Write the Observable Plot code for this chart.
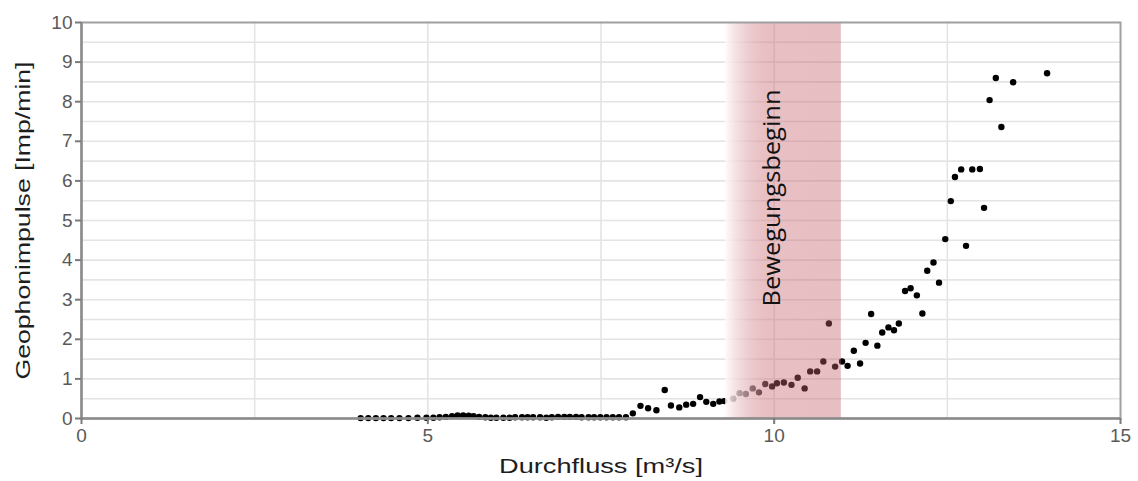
<!DOCTYPE html>
<html><head><meta charset="utf-8">
<script src="https://cdn.jsdelivr.net/npm/d3@7"></script>
<script src="https://cdn.jsdelivr.net/npm/@observablehq/plot@0.6"></script>
<style>body{margin:0;background:#fff}</style>
</head><body><div id="chart"></div>
<script>
// Durchfluss [m³/s]
const discharge = [
  4.03,4.14,4.25,4.36,4.47,4.59,4.72,4.85,4.98,5.08,5.17,5.26,5.35,5.43,5.51,5.59,5.66,5.74,5.83,5.91,
  5.99,6.09,6.18,6.26,6.36,6.44,6.52,6.62,6.71,6.79,6.88,6.97,7.05,7.14,7.22,7.32,7.40,7.49,7.58,7.67,
  7.76,7.86,
  7.96,8.07,8.18,8.30,8.42,8.51,8.63,8.73,8.83,8.93,9.02,9.12,9.21,9.28,9.41,9.50,9.59,9.69,9.78,9.87,
  9.97,10.04,10.14,10.25,10.34,10.44,10.52,10.62,10.71,10.79,10.88,10.98,11.06,11.15,11.24,11.32,11.40,
  11.49,11.56,11.65,11.73,11.80,11.89,11.97,12.06,12.14,12.21,12.30,12.38,12.47,12.55,12.61,12.70,12.77,
  12.86,12.97,13.03,13.11,13.20,13.28,13.45,13.94
];
// Geophonimpulse [Imp/min]
const impulses = [
  0.01,0.01,0.01,0.01,0.01,0.01,0.01,0.02,0.02,0.02,0.03,0.04,0.06,0.08,0.08,0.07,0.06,0.04,0.03,0.02,
  0.02,0.02,0.02,0.03,0.03,0.03,0.03,0.03,0.02,0.03,0.04,0.04,0.04,0.04,0.03,0.03,0.03,0.03,0.03,0.03,
  0.03,0.03,
  0.13,0.32,0.26,0.21,0.72,0.33,0.28,0.35,0.37,0.54,0.42,0.37,0.43,0.44,0.50,0.64,0.62,0.76,0.66,0.87,
  0.81,0.89,0.91,0.85,1.03,0.76,1.19,1.19,1.44,2.40,1.31,1.44,1.33,1.71,1.39,1.91,2.64,
  1.84,2.17,2.30,2.23,2.40,3.22,3.29,3.11,2.65,3.73,3.94,3.43,4.53,5.49,6.10,6.29,4.36,
  6.29,6.30,5.32,8.04,8.60,7.36,8.49,8.72
];
const xTicks = [0, 5, 10, 15];
const yTicks = [0, 1, 2, 3, 4, 5, 6, 7, 8, 9, 10];
const xGrid = [2.5, 5, 7.5, 10, 12.5];
const yGrid = [0.5,1,1.5,2,2.5,3,3.5,4,4.5,5,5.5,6,6.5,7,7.5,8,8.5,9,9.5];
const bandStart = [9.3];
const bandEnd = [10.97];
const bandLabel = ["Bewegungsbeginn"];
const bandLabelX = [9.98];
const bandLabelY = [5.57];
const xTitle = ["Durchfluss [m³/s]"];
const yTitle = ["Geophonimpulse [Imp/min]"];

const points = discharge.map((d, i) => ({q: d, g: impulses[i]}));
const band = bandStart.map((s, i) => ({x1: s, x2: bandEnd[i], y1: 0, y2: 10}));
const labels = bandLabel.map((t, i) => ({t, x: bandLabelX[i], y: bandLabelY[i]}));

const plot = Plot.plot({
  width: 1138,
  height: 481,
  marginLeft: 81,
  marginRight: 18,
  marginTop: 22,
  marginBottom: 63,
  x: {domain: [0, 15]},
  y: {domain: [0, 10]},
  style: {fontFamily: "'Liberation Sans', Arial, sans-serif", fontSize: "19px", color: "#5a5a5a", background: "#fff"},
  marks: [
    Plot.gridY(yGrid, {stroke: "#e4e4e4", strokeOpacity: 1, strokeWidth: 1.6}),
    Plot.gridX(xGrid, {stroke: "#e4e4e4", strokeOpacity: 1, strokeWidth: 1.6}),
    Plot.dot(points, {x: "q", y: "g", r: 3.2, fill: "#000", stroke: "none"}),
    Plot.rect(band, {x1: "x1", x2: "x2", y1: "y1", y2: "y2", fill: "url(#bandGrad)"}),
    Plot.text(labels, {x: "x", y: "y", text: "t", rotate: -90, fontFamily: "'Open Sans', sans-serif", fontSize: 24, fill: "#111"}),
    Plot.frame({stroke: "#a0a0a0", strokeWidth: 2}),
    Plot.ruleY([0], {stroke: "#8c8c8c", strokeWidth: 2.5}),
    Plot.ruleX([0], {stroke: "#8c8c8c", strokeWidth: 2.5}),
    Plot.axisX(xTicks, {label: null, tickSize: 6, tickPadding: 4, stroke: "#7a7a7a", strokeWidth: 2}),
    Plot.axisY(yTicks, {label: null, tickSize: 6, tickPadding: 3, stroke: "#7a7a7a", strokeWidth: 2}),
    Plot.text(yTitle, {frameAnchor: "left", dx: -58, rotate: -90, textAnchor: "middle", lineAnchor: "middle", text: d => d, fontSize: 21, fill: "#1e1e1e"}),
    Plot.text(xTitle, {frameAnchor: "bottom", dy: 48, textAnchor: "middle", lineAnchor: "middle", text: d => d, fontSize: 21, fill: "#1e1e1e"})
  ]
});

const svg = d3.select(plot);
const grad = svg.insert("defs", ":first-child").append("linearGradient")
  .attr("id", "bandGrad").attr("x1", "0").attr("x2", "1").attr("y1", "0").attr("y2", "0");
grad.append("stop").attr("offset", "0").attr("stop-color", "rgb(255,250,250)").attr("stop-opacity", 0.9);
grad.append("stop").attr("offset", "0.42").attr("stop-color", "rgb(200,105,115)").attr("stop-opacity", 0.42);
grad.append("stop").attr("offset", "1").attr("stop-color", "rgb(196,96,106)").attr("stop-opacity", 0.4);

svg.selectAll("text").each(function() {
  const t = this.textContent;
  if (t === bandLabel[0]) d3.select(this).attr("textLength", 217).attr("lengthAdjust", "spacingAndGlyphs");
  if (t === yTitle[0]) d3.select(this).attr("textLength", 318).attr("lengthAdjust", "spacingAndGlyphs");
  if (t === xTitle[0]) d3.select(this).attr("textLength", 204).attr("lengthAdjust", "spacingAndGlyphs");
});

document.getElementById("chart").appendChild(plot);
</script>
</body></html>
